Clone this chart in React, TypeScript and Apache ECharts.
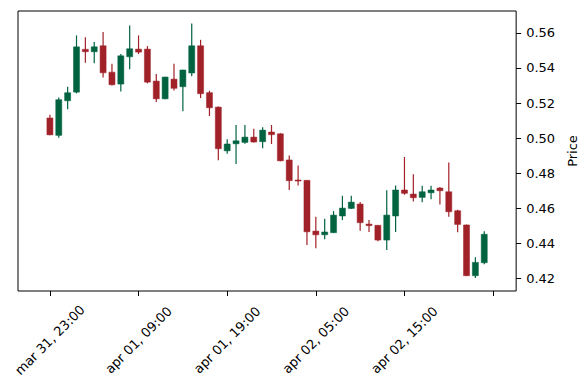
import React, { useEffect, useRef } from "react";
import * as echarts from "echarts";

const opens = [
  0.5115, 0.5016, 0.5213, 0.5262, 0.5506, 0.5492, 0.5526, 0.5376, 0.5308, 0.5463,
  0.5507, 0.5507, 0.5325, 0.5224, 0.5336, 0.5293, 0.5371, 0.5526, 0.5259, 0.5177,
  0.4928, 0.4968, 0.4976, 0.5006, 0.498, 0.5035, 0.5025, 0.4876, 0.4762, 0.476,
  0.4471, 0.445, 0.4462, 0.4557, 0.46, 0.4625, 0.4511, 0.4504, 0.442, 0.4557,
  0.4705, 0.4682, 0.4663, 0.4689, 0.4716, 0.4695, 0.4587, 0.4506, 0.4217, 0.4291,
];
const closes = [
  0.5019, 0.5219, 0.5259, 0.552, 0.5492, 0.552, 0.5372, 0.5304, 0.5469, 0.5509,
  0.549, 0.5319, 0.5224, 0.5348, 0.5284, 0.5388, 0.5526, 0.5253, 0.5173, 0.494,
  0.4967, 0.4985, 0.5006, 0.4978, 0.5046, 0.502, 0.4871, 0.4758, 0.4756, 0.4467,
  0.445, 0.4466, 0.4562, 0.4602, 0.4636, 0.4519, 0.4502, 0.442, 0.4562, 0.4705,
  0.4686, 0.4661, 0.4695, 0.4705, 0.4701, 0.4581, 0.4509, 0.4217, 0.4293, 0.4453,
];
const highs = [
  0.5133, 0.5232, 0.5293, 0.5585, 0.5574, 0.5547, 0.5604, 0.5424, 0.5479, 0.5642,
  0.5585, 0.5524, 0.5365, 0.535, 0.5424, 0.539, 0.5653, 0.556, 0.527, 0.518,
  0.4994, 0.5075, 0.5075, 0.5054, 0.5062, 0.5075, 0.5028, 0.4902, 0.4845, 0.4762,
  0.4553, 0.4541, 0.4585, 0.4672, 0.4672, 0.4636, 0.4534, 0.4506, 0.4703, 0.4731,
  0.4893, 0.4794, 0.4729, 0.4729, 0.4722, 0.4862, 0.4593, 0.4508, 0.4322, 0.447,
];
const lows = [
  0.5016, 0.5002, 0.5164, 0.5255, 0.5429, 0.5426, 0.5346, 0.53, 0.5266, 0.5392,
  0.5479, 0.5312, 0.5206, 0.5222, 0.5272, 0.5154, 0.5352, 0.5228, 0.5126, 0.4874,
  0.4912, 0.4853, 0.4968, 0.4976, 0.4942, 0.4967, 0.4868, 0.4705, 0.4731, 0.4392,
  0.4373, 0.4424, 0.446, 0.4534, 0.4597, 0.4473, 0.4466, 0.4413, 0.4363, 0.4466,
  0.4678, 0.464, 0.4635, 0.4652, 0.4623, 0.4553, 0.4464, 0.4215, 0.4204, 0.4282,
];

const xTickPositions = [0, 10, 20, 30, 40, 50];
const xTickLabels = ["mar 31, 23:00", "apr 01, 09:00", "apr 01, 19:00", "apr 02, 05:00", "apr 02, 15:00", ""];
const yTicks = [0.42, 0.44, 0.46, 0.48, 0.5, 0.52, 0.54, 0.56];

const UP = "#006340";
const DOWN = "#A02128";
const FONT = "DejaVu Sans";

export default function App() {
  const ref = useRef<HTMLDivElement>(null);
  useEffect(() => {
    const chart = echarts.init(ref.current!, null, { renderer: "svg" });
    const data = opens.map((o, i) => [i, o, closes[i], lows[i], highs[i]]);
    chart.setOption({
      animation: false,
      backgroundColor: "#fff",
      grid: {
        left: 18,
        right: 69,
        top: 11,
        bottom: 99,
        show: true,
        borderColor: "#000",
        borderWidth: 1,
        backgroundColor: "transparent",
      },
      xAxis: {
        type: "value",
        min: -3.6,
        max: 52.6,
        splitLine: { show: false },
        axisLine: { show: false, onZero: false },
        axisTick: {
          show: true,
          length: 5,
          customValues: xTickPositions,
          lineStyle: { color: "#000", width: 1 },
        },
        axisLabel: {
          customValues: xTickPositions.slice(0, 5),
          formatter: (v: number) => xTickLabels[xTickPositions.indexOf(Math.round(v))] ?? "",
          rotate: 45,
          align: "center",
          verticalAlign: "middle",
          margin: 49,
          color: "#000",
          fontSize: 13,
          fontFamily: FONT,
        },
      },
      yAxis: {
        type: "value",
        position: "right",
        min: 0.413,
        max: 0.5724,
        splitLine: { show: false },
        axisLine: { show: false, onZero: false },
        axisTick: {
          show: true,
          length: 5,
          customValues: yTicks,
          lineStyle: { color: "#000", width: 1 },
        },
        axisLabel: {
          customValues: yTicks,
          formatter: (v: number) => v.toFixed(2),
          margin: 10,
          color: "#000",
          fontSize: 13,
          fontFamily: FONT,
        },
        name: "Price",
        nameLocation: "middle",
        nameRotate: 90,
        nameGap: 41,
        nameTextStyle: { color: "#000", fontSize: 13, fontFamily: FONT },
      },
      series: [
        {
          type: "custom",
          data,
          encode: { x: 0, y: [1, 2, 3, 4] },
          renderItem: (params: any, api: any) => {
            const x = api.value(0);
            const o = api.value(1);
            const c = api.value(2);
            const l = api.value(3);
            const h = api.value(4);
            const pO = api.coord([x, o]);
            const pC = api.coord([x, c]);
            const pL = api.coord([x, l]);
            const pH = api.coord([x, h]);
            const w = api.size([1, 0])[0] * 0.68;
            const color = c >= o ? UP : DOWN;
            const top = Math.min(pO[1], pC[1]);
            const hgt = Math.max(Math.abs(pO[1] - pC[1]), 1);
            return {
              type: "group",
              children: [
                {
                  type: "line",
                  shape: { x1: pH[0], y1: pH[1], x2: pL[0], y2: pL[1] },
                  style: { stroke: color, lineWidth: 1.2 },
                },
                {
                  type: "rect",
                  shape: { x: pO[0] - w / 2, y: top, width: w, height: hgt },
                  style: { fill: color, stroke: color, lineWidth: 0.5 },
                },
              ],
            };
          },
        },
      ],
    });
    return () => chart.dispose();
  }, []);
  return (
    <div
      ref={ref}
      style={{ position: "fixed", left: 0, top: 0, width: 587, height: 390, background: "#fff" }}
    />
  );
}
